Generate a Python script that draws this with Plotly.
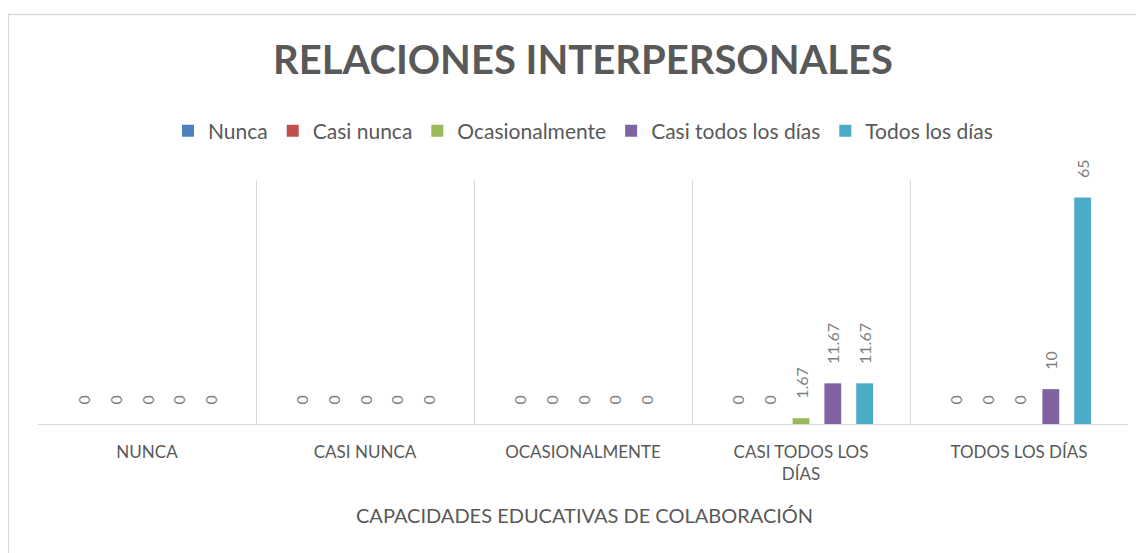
import plotly.graph_objects as go

categories = ["NUNCA", "CASI NUNCA", "OCASIONALMENTE", "CASI TODOS LOS<br>DÍAS", "TODOS LOS DÍAS"]
series_names = ["Nunca", "Casi nunca", "Ocasionalmente", "Casi todos los días", "Todos los días"]
nunca = [0, 0, 0, 0, 0]
casi_nunca = [0, 0, 0, 0, 0]
ocasionalmente = [0, 0, 0, 1.67, 0]
casi_todos = [0, 0, 0, 11.67, 10]
todos = [0, 0, 0, 11.67, 65]
colors = ["#4F81BD", "#C0504D", "#9BBB59", "#8064A2", "#4BACC6"]

FONT = "Lato"
OFF = 8  # page body margin offset
PAD = "\u00a0" * 4  # gap between bar end and its label
fig = go.Figure()
for name, vals, col in zip(series_names, [nunca, casi_nunca, ocasionalmente, casi_todos, todos], colors):
    fig.add_trace(go.Bar(
        name=name, x=categories, y=vals, marker_color=col, marker_line_width=0,
        text=[PAD + f"{v:g}" for v in vals], textposition="outside", textangle=-90,
        constraintext="none",
        textfont=dict(family=FONT, size=16, color="#7F7F7F"), cliponaxis=False,
    ))

W, H = 1136, 545
# target pixel coordinates in the screenshot
L, R, T, B = 38, 1128, 180, 424
ml, mr, mt = L - OFF, W - (R - OFF), T - OFF
mb = H - (B - OFF)
pw, ph = W - ml - mr, H - mt - mb

def px_x(p):
    return (p - OFF - ml) / pw

def px_y(p):
    return (H - mb - (p - OFF)) / ph

fig.update_layout(
    width=W, height=H,
    margin=dict(l=ml, r=mr, t=mt, b=mb),
    paper_bgcolor="white", plot_bgcolor="white",
    barmode="group", bargap=0.27, bargroupgap=0.47,
    font=dict(family=FONT, color="#595959"),
    showlegend=True,
    legend=dict(orientation="h", x=0.5, xanchor="center", y=px_y(131), yanchor="middle",
                font=dict(family=FONT, size=21, color="#595959"),
                itemwidth=30, traceorder="normal"),
    xaxis=dict(type="category", tickson="boundaries", showgrid=True, gridcolor="#D9D9D9",
               gridwidth=1.3, showline=True, linecolor="#D9D9D9", linewidth=1.3, ticks="",
               ticklabelstandoff=12,
               tickfont=dict(family=FONT, size=17, color="#595959"), fixedrange=True),
    yaxis=dict(range=[0, 70], visible=False, showgrid=False, zeroline=False),
    shapes=[dict(type="rect", xref="paper", yref="paper",
                 x0=px_x(8.5), x1=px_x(1160), y0=px_y(570), y1=px_y(14.5),
                 line=dict(color="#D9D9D9", width=1.3), fillcolor="rgba(0,0,0,0)", layer="below")],
    annotations=[
        dict(text="<b>RELACIONES INTERPERSONALES</b>", xref="paper", yref="paper",
             x=px_x(583), y=px_y(59), xanchor="center", yanchor="middle", showarrow=False,
             font=dict(family=FONT, size=40, color="#595959")),
        dict(text="CAPACIDADES EDUCATIVAS DE COLABORACIÓN", xref="paper", yref="paper",
             x=px_x(584), y=px_y(515), xanchor="center", yanchor="middle", showarrow=False,
             font=dict(family=FONT, size=20, color="#595959")),
    ],
)

fig.write_html("out.html")
